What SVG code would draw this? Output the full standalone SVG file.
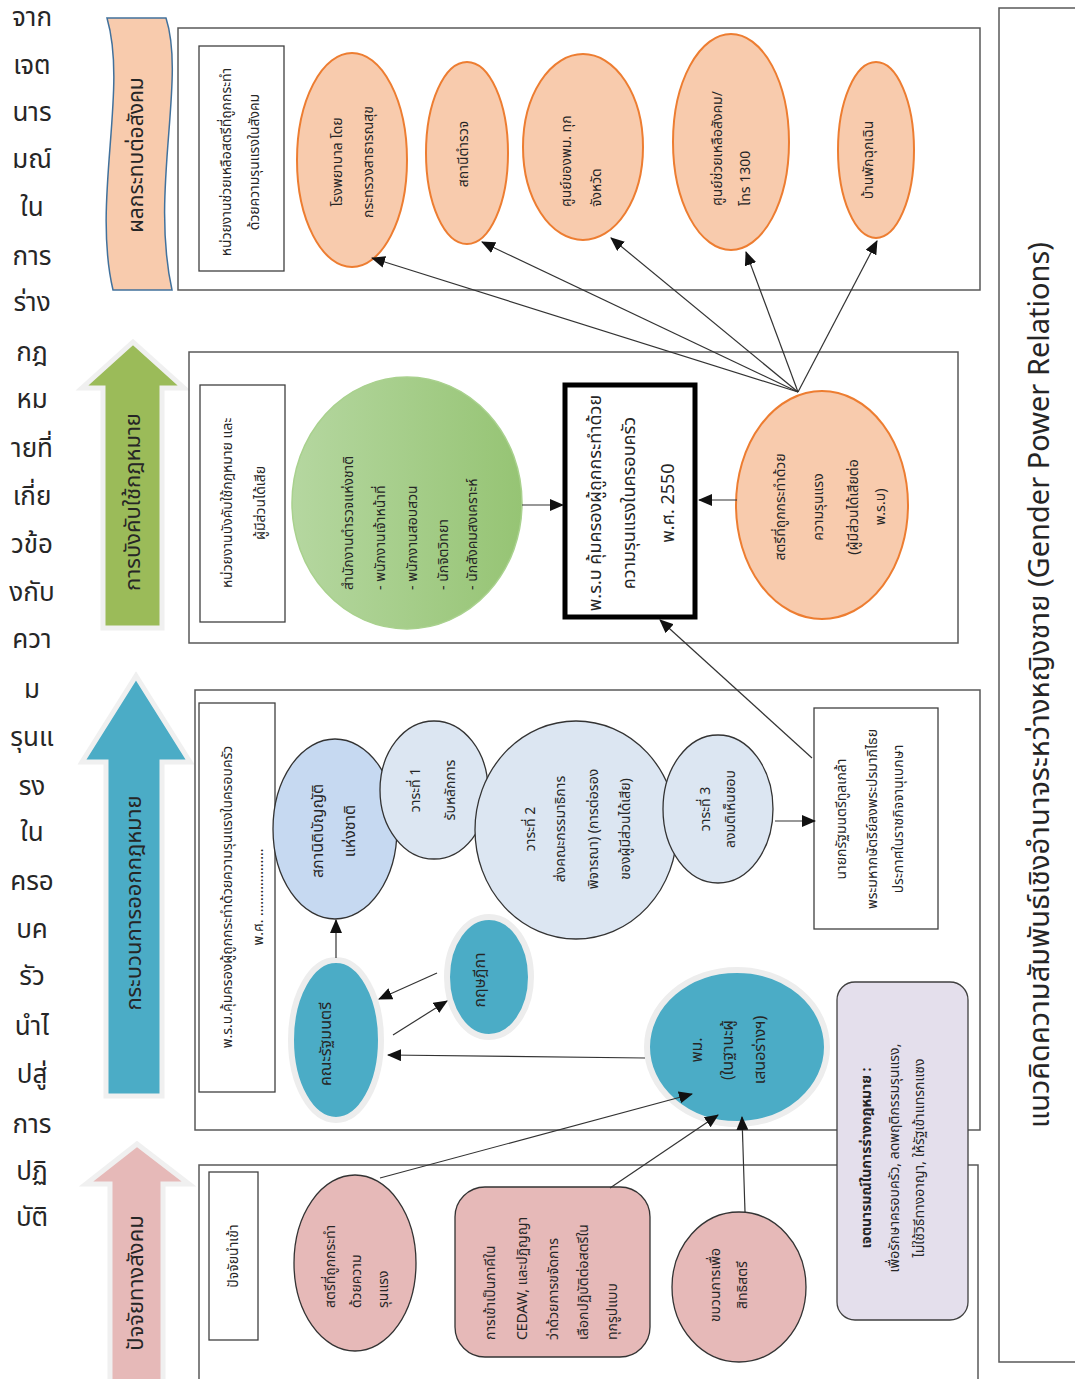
<svg xmlns="http://www.w3.org/2000/svg" width="1075" height="1379" viewBox="0 0 1075 1379">
<style>
.t{font-family:'Noto Sans Thai','Noto Sans','DejaVu Sans',sans-serif;fill:#262626;font-size:14px;dominant-baseline:central}
.m{text-anchor:middle}
.s{text-anchor:start}
.st{font-size:22px}
.frame{fill:none;stroke:#595959;stroke-width:1.5}
.lbl{fill:#fff;stroke:#404040;stroke-width:1.3}
.org{fill:#F8CBAD;stroke:#ED7D31;stroke-width:2}
.lb{fill:#DCE6F2;stroke:#333;stroke-width:1.3}
.teal{fill:#4BACC6;stroke:#EDEDED;stroke-width:6}
.pink{fill:#E6B9B8;stroke:#333;stroke-width:1.3}
.halo{stroke:#F0F0F0;stroke-width:5;stroke-linejoin:miter}
#conn line{stroke:#333;stroke-width:1.2;marker-end:url(#ah)}
</style>
<defs>
<marker id="ah" markerUnits="userSpaceOnUse" markerWidth="14" markerHeight="12" refX="13" refY="6" orient="auto">
<path d="M0,0 L14,6 L0,12 Z" fill="#111"/>
</marker>
<linearGradient id="gg" x1="0" y1="0" x2="1" y2="0">
<stop offset="0" stop-color="#B5D7A0"/>
<stop offset="1" stop-color="#96C474"/>
</linearGradient>
</defs>
<rect width="1075" height="1379" fill="#fff"/>

<g id="side-text">
<text class="t m" style="font-size:26px" x="32">
<tspan x="32" y="18">จาก</tspan><tspan x="32" y="66">เจต</tspan><tspan x="32" y="113">นาร</tspan><tspan x="32" y="160">มณ์</tspan><tspan x="32" y="208">ใน</tspan><tspan x="32" y="257">การ</tspan><tspan x="32" y="303">ร่าง</tspan><tspan x="32" y="353">กฎ</tspan><tspan x="32" y="400">หม</tspan><tspan x="32" y="449">ายที่</tspan><tspan x="32" y="497">เกี่ย</tspan><tspan x="32" y="545">วข้อ</tspan><tspan x="32" y="593">งกับ</tspan><tspan x="32" y="640">ควา</tspan><tspan x="32" y="690">ม</tspan><tspan x="32" y="738">รุนแ</tspan><tspan x="32" y="787">รง</tspan><tspan x="32" y="833">ใน</tspan><tspan x="32" y="882">ครอ</tspan><tspan x="32" y="930">บค</tspan><tspan x="32" y="977">รัว</tspan><tspan x="32" y="1027">นำไ</tspan><tspan x="32" y="1075">ปสู่</tspan><tspan x="32" y="1125">การ</tspan><tspan x="32" y="1172">ปฏิ</tspan><tspan x="32" y="1218">บัติ</tspan>
</text>
</g>

<g id="title">
<rect x="999" y="8" width="90" height="1354" fill="none" stroke="#595959" stroke-width="1.5"/>
<text class="t m" style="font-size:29px" transform="translate(1040,685) rotate(-90)" x="0" y="0">แนวคิดความสัมพันธ์เชิงอำนาจระหว่างหญิงชาย (Gender Power Relations)</text>
</g>

<g id="stage-impact">
<path d="M107,18 L166,18 C186,80 150,190 172,290 L113,290 C92,200 128,90 107,18 Z" fill="#F8CBAD" stroke="#41719C" stroke-width="1.5"/>
<text class="t m" style="font-size:21px" transform="translate(136,155) rotate(-90)">ผลกระทบต่อสังคม</text>
</g>
<g id="stage-enforce">
<path class="halo" d="M103,628 L103,388 L82,388 L133,342 L184,388 L162,388 L162,628 Z" fill="#9BBB59"/>
<text class="t m st" transform="translate(133,502) rotate(-90)">การบังคับใช้กฎหมาย</text>
</g>
<g id="stage-legislate">
<path class="halo" d="M106,1096 L106,762 L82,762 L136,676 L190,762 L162,762 L162,1096 Z" fill="#4BACC6"/>
<text class="t m st" transform="translate(134,903) rotate(-90)">กระบวนการออกกฎหมาย</text>
</g>
<g id="stage-social">
<path class="halo" d="M110,1390 L110,1184 L86,1184 L137,1144 L189,1184 L163,1184 L163,1390 Z" fill="#E6B9B8"/>
<text class="t m st" transform="translate(136,1283) rotate(-90)">ปัจจัยทางสังคม</text>
</g>

<g id="box-impact">
<rect class="frame" x="178" y="28" width="802" height="262"/>
<rect class="lbl" x="199" y="46" width="85" height="225"/>
<text class="t m" transform="translate(226,162) rotate(-90)"><tspan x="0" y="0">หน่วยงานช่วยเหลือสตรีที่ถูกกระทำ</tspan><tspan x="0" y="28">ด้วยความรุนแรงในสังคม</tspan></text>
</g>
<g id="n-hospital">
<ellipse class="org" cx="352" cy="160" rx="55" ry="107"/>
<text class="t m" transform="translate(337,162) rotate(-90)"><tspan x="0" y="0">โรงพยาบาล โดย</tspan><tspan x="0" y="31">กระทรวงสาธารณสุข</tspan></text>
</g>
<g id="n-police">
<ellipse class="org" cx="467" cy="153" rx="41" ry="91"/>
<text class="t m" transform="translate(463,154) rotate(-90)">สถานีตำรวจ</text>
</g>
<g id="n-mso">
<ellipse class="org" cx="583" cy="147" rx="60" ry="93"/>
<text class="t s" transform="translate(566,207) rotate(-90)"><tspan x="0" y="0">ศูนย์ของพม. ทุก</tspan><tspan x="0" y="30">จังหวัด</tspan></text>
</g>
<g id="n-1300">
<ellipse class="org" cx="731" cy="142" rx="58" ry="108"/>
<text class="t s" transform="translate(717,206) rotate(-90)"><tspan x="0" y="0">ศูนย์ช่วยเหลือสังคม/</tspan><tspan x="0" y="28">โทร 1300</tspan></text>
</g>
<g id="n-shelter">
<ellipse class="org" cx="876" cy="150" rx="38" ry="88"/>
<text class="t m" transform="translate(868,160) rotate(-90)">บ้านพักฉุกเฉิน</text>
</g>

<g id="box-enforce">
<rect class="frame" x="189" y="352" width="769" height="291"/>
<rect class="lbl" x="200" y="385" width="85" height="237"/>
<text class="t m" transform="translate(227,503) rotate(-90)"><tspan x="0" y="0">หน่วยงานบังคับใช้กฎหมาย และ</tspan><tspan x="0" y="33">ผู้มีส่วนได้เสีย</tspan></text>
</g>
<g id="n-police-hq">
<ellipse cx="407" cy="503" rx="115" ry="126" fill="url(#gg)" stroke="#A9D18E" stroke-width="1.5"/>
<text class="t s" transform="translate(348,590) rotate(-90)"><tspan x="0" y="0">สำนักงานตำรวจแห่งชาติ</tspan><tspan x="0" y="32">- พนักงานเจ้าหน้าที่</tspan><tspan x="0" y="64">- พนักงานสอบสวน</tspan><tspan x="0" y="95">- นักจิตวิทยา</tspan><tspan x="0" y="124">- นักสังคมสงเคราะห์</tspan></text>
</g>
<g id="n-act">
<rect x="565" y="385" width="130" height="232" fill="#fff" stroke="#000" stroke-width="5"/>
<text class="t m" style="font-size:18px" transform="translate(595,503) rotate(-90)"><tspan x="0" y="0">พ.ร.บ คุ้มครองผู้ถูกกระทำด้วย</tspan><tspan x="0" y="34">ความรุนแรงในครอบครัว</tspan><tspan x="0" y="73">พ.ศ. 2550</tspan></text>
</g>
<g id="n-victim">
<ellipse class="org" cx="822" cy="505" rx="86" ry="114"/>
<text class="t m" transform="translate(780,507) rotate(-90)"><tspan x="0" y="0">สตรีที่ถูกกระทำด้วย</tspan><tspan x="0" y="38">ความรุนแรง</tspan><tspan x="0" y="73">(ผู้มีส่วนได้เสียต่อ</tspan><tspan x="0" y="100">พ.ร.บ)</tspan></text>
</g>

<g id="box-legislate">
<rect class="frame" x="195" y="690" width="785" height="440"/>
<rect class="lbl" x="199" y="703" width="76" height="389"/>
<text class="t m" transform="translate(227,897) rotate(-90)"><tspan x="0" y="0">พ.ร.บ.คุ้มครองผู้ถูกกระทำด้วยความรุนแรงในครอบครัว</tspan><tspan x="0" y="31">พ.ศ. ..................</tspan></text>
</g>
<g id="n-parliament">
<ellipse cx="335" cy="829" rx="62" ry="90" fill="#C6D9F1" stroke="#333" stroke-width="1.3"/>
<text class="t m" style="font-size:16px" transform="translate(318,831) rotate(-90)"><tspan x="0" y="0">สภานิติบัญญัติ</tspan><tspan x="0" y="32">แห่งชาติ</tspan></text>
</g>
<g id="n-r1">
<ellipse class="lb" cx="434" cy="790" rx="54" ry="69"/>
<text class="t m" transform="translate(415,790) rotate(-90)"><tspan x="0" y="0">วาระที่ 1</tspan><tspan x="0" y="35">รับหลักการ</tspan></text>
</g>
<g id="n-r2">
<ellipse class="lb" cx="576" cy="830" rx="101" ry="109"/>
<text class="t m" transform="translate(530,829) rotate(-90)"><tspan x="0" y="0">วาระที่ 2</tspan><tspan x="0" y="30">ส่งคณะกรรมาธิการ</tspan><tspan x="0" y="63">พิจารณา) (การต่อรอง</tspan><tspan x="0" y="95">ของผู้มีส่วนได้เสีย)</tspan></text>
</g>
<g id="n-r3">
<ellipse class="lb" cx="718" cy="809" rx="55" ry="74"/>
<text class="t m" transform="translate(705,809) rotate(-90)"><tspan x="0" y="0">วาระที่ 3</tspan><tspan x="0" y="25">ลงมติเห็นชอบ</tspan></text>
</g>
<g id="n-pm">
<rect class="lbl" x="814" y="708" width="124" height="221"/>
<text class="t m" transform="translate(841,819) rotate(-90)"><tspan x="0" y="0">นายกรัฐมนตรีทูลเกล้า</tspan><tspan x="0" y="31">พระมหากษัตริย์ลงพระปรมาภิไธย</tspan><tspan x="0" y="57">ประกาศในราชกิจจานุเบกษา</tspan></text>
</g>
<g id="n-cabinet">
<ellipse class="teal" cx="336" cy="1040" rx="45" ry="80"/>
<text class="t m" style="font-size:16px" transform="translate(326,1044) rotate(-90)">คณะรัฐมนตรี</text>
</g>
<g id="n-council">
<ellipse class="teal" cx="489" cy="977" rx="42" ry="60"/>
<text class="t m" style="font-size:16px" transform="translate(480,980) rotate(-90)">กฤษฎีกา</text>
</g>
<g id="n-msdhs">
<ellipse class="teal" cx="737" cy="1047" rx="90" ry="77"/>
<text class="t m" style="font-size:16px" transform="translate(697,1050) rotate(-90)"><tspan x="0" y="0">พม.</tspan><tspan x="0" y="31">(ในฐานะผู้</tspan><tspan x="0" y="63">เสนอร่างฯ)</tspan></text>
</g>

<g id="box-social">
<rect class="frame" x="199" y="1165" width="779" height="230"/>
<rect class="lbl" x="209" y="1172" width="49" height="168"/>
<text class="t m" transform="translate(233,1256) rotate(-90)">ปัจจัยนำเข้า</text>
</g>
<g id="n-intent">
<rect x="837" y="982" width="131" height="338" rx="18" fill="#E4DFEC" stroke="#404040" stroke-width="1.3"/>
<text class="t m" transform="translate(866,1158) rotate(-90)"><tspan x="0" y="0" font-weight="bold">เจตนารมณ์ในการร่างกฎหมาย :</tspan><tspan x="0" y="28">เพื่อรักษาครอบครัว, ลดพฤติกรรมรุนแรง,</tspan><tspan x="0" y="53">ไม่ใช้วิธีทางอาญา, ให้รัฐเข้าแทรกแซง</tspan></text>
</g>
<g id="n-women">
<ellipse class="pink" cx="355" cy="1263" rx="61" ry="88"/>
<text class="t s" transform="translate(330,1308) rotate(-90)"><tspan x="0" y="0">สตรีที่ถูกกระทำ</tspan><tspan x="0" y="26">ด้วยความ</tspan><tspan x="0" y="53">รุนแรง</tspan></text>
</g>
<g id="n-cedaw">
<rect class="pink" x="455" y="1187" width="195" height="170" rx="30"/>
<text class="t s" transform="translate(490,1340) rotate(-90)"><tspan x="0" y="0">การเข้าเป็นภาคีใน</tspan><tspan x="0" y="32">CEDAW, และปฏิญญา</tspan><tspan x="0" y="63">ว่าด้วยการขจัดการ</tspan><tspan x="0" y="93">เลือกปฏิบัติต่อสตรีใน</tspan><tspan x="0" y="122">ทุกรูปแบบ</tspan></text>
</g>
<g id="n-movement">
<ellipse class="pink" cx="739" cy="1287" rx="67" ry="75"/>
<text class="t m" transform="translate(715,1285) rotate(-90)"><tspan x="0" y="0">ขบวนการเพื่อ</tspan><tspan x="0" y="27">สิทธิสตรี</tspan></text>
</g>

<g id="conn">
<line x1="798" y1="392" x2="372" y2="258"/>
<line x1="798" y1="392" x2="482" y2="242"/>
<line x1="798" y1="392" x2="611" y2="238"/>
<line x1="798" y1="392" x2="746" y2="252"/>
<line x1="798" y1="392" x2="877" y2="241"/>
<line x1="522" y1="505" x2="563" y2="505"/>
<line x1="737" y1="500" x2="699" y2="500"/>
<line x1="812" y1="758" x2="660" y2="620"/>
<line x1="775" y1="821" x2="815" y2="821"/>
<line x1="336" y1="958" x2="336" y2="920"/>
<line x1="437" y1="973" x2="379" y2="999"/>
<line x1="393" y1="1035" x2="447" y2="1001"/>
<line x1="645" y1="1058" x2="388" y2="1055"/>
<line x1="380" y1="1178" x2="692" y2="1094"/>
<line x1="610" y1="1188" x2="718" y2="1115"/>
<line x1="745" y1="1212" x2="742" y2="1117"/>
</g>
</svg>
